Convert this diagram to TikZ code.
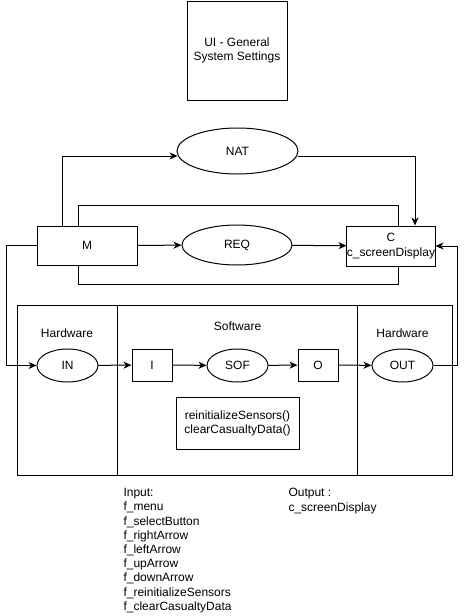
\documentclass[tikz,border=0pt]{standalone}
\usepackage{fontspec}
\setmainfont{Liberation Sans}
\usetikzlibrary{shapes.geometric,arrows.meta}

\begin{document}
\begin{tikzpicture}
  	[x=1pt,y=-1pt,line width=1pt,
   	every node/.style={font=\fontsize{12}{14.2}\selectfont,inner sep=0pt,align=center},
  	box/.style={draw,rectangle},
   	oval/.style={draw,ellipse},
	flow/.style={-{Stealth[length=8pt,width=7pt,inset=2.5pt]}}]
	\useasboundingbox (0,0) rectangle (466,616);
  	\node[box,minimum width=100pt,minimum height=99pt] (ui) at (237,50.5) {UI - General\\System Settings};
  	\node[oval,minimum width=121pt,minimum height=46pt] (nat) at (237.5,151) {NAT};
  	\node[box,minimum width=100pt,minimum height=39pt] (m) at (87,245.5) {M};
  	\node[oval,minimum width=110pt,minimum height=40pt] (req) at (237,245) {REQ};
  	\node[box,minimum width=86pt,minimum height=40pt] (c) at (391,246) {C\\c\_screenDisplay};
  	\node[box,minimum width=100pt,minimum height=170pt] (hwin) at (67,390) {};
  	\node[box,minimum width=240pt,minimum height=170pt] (sw) at (237,390) {};
  	\node[box,minimum width=95pt,minimum height=170pt] (hwout) at (404.5,390) {};
  	\node (hwinlbl) at (67,333) {Hardware};
  	\node (swlbl) at (237.5,326) {Software};
  	\node (hwoutlbl) at (402.5,333) {Hardware};
  	\node[oval,minimum width=61pt,minimum height=33pt] (in) at (67.5,365.5) {IN};
  	\node[box,minimum width=40pt,minimum height=32pt] (i) at (152,365) {I};
  	\node[oval,minimum width=61pt,minimum height=33pt] (sof) at (237.5,365.5) {SOF};
  	\node[box,minimum width=40pt,minimum height=32pt] (o) at (318,365) {O};
  	\node[oval,minimum width=61pt,minimum height=33pt] (out) at (402.5,365.5) {OUT};
  	\node[box,minimum width=123pt,minimum height=52pt] (calls) at (237.5,423) {reinitializeSensors()\\clearCasualtyData()};
  	\node[anchor=north west,align=left] (inputs) at (123,488) {Input:\\f\_menu\\f\_selectButton\\f\_rightArrow\\f\_leftArrow\\f\_upArrow\\f\_downArrow\\f\_reinitializeSensors\\f\_clearCasualtyData};
  	\node[anchor=north west,align=left] (outputs) at (288,488) {Output :\\c\_screenDisplay};
  	\draw[flow] ([xshift=-25pt]m.north) |- ([yshift=-5pt,xshift=1pt]nat.west);
  	\draw[flow] ([yshift=-5pt,xshift=-1pt]nat.east) -| ([xshift=24pt]c.north);
  	\draw ([xshift=-9pt]m.north) -- ++(0,-20) -| ([xshift=7pt]c.north);
  	\draw ([xshift=-9pt]m.south) -- ++(0,19) -| ([xshift=7pt]c.south);
  	\draw[flow] (m) -- (req);
  	\draw[flow] (req) -- (c);
  	\draw[flow] (m.west) -- ++(-30,0) |- (in);
  	\draw[flow] (out.east) -- ++(24,0) |- (c.east);
  	\draw[flow] (in) -- (i);
  	\draw[flow] (i) -- (sof);
  	\draw[flow] (sof) -- (o);
  	\draw[flow] (o) -- (out);
\end{tikzpicture}
\end{document}
